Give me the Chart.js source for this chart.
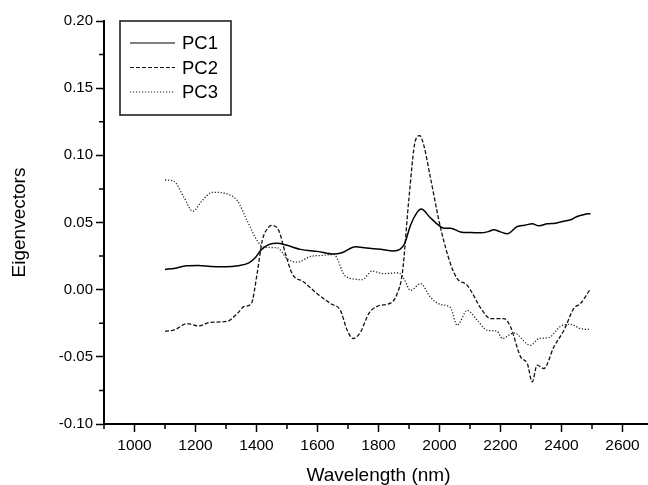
<!DOCTYPE html>
<html>
<head>
<meta charset="utf-8">
<script src="https://cdn.jsdelivr.net/npm/chart.js@4/dist/chart.umd.min.js"></script>
<style>
  html, body { margin: 0; padding: 0; background: #fff; overflow: hidden; }
  #wrap { width: 653px; height: 485px; }
</style>
</head>
<body>
<div id="wrap"><canvas id="c"></canvas></div>
<script>
// values
var pc1Wl = [1100,1130,1170,1210,1250,1300,1340,1375,1395,1415,1440,1468,1500,1544,1600,1652,1680,1725,1760,1806,1850,1870,1885,1905,1925,1940,1970,2000,2014,2036,2069,2100,2134,2160,2178,2200,2222,2255,2280,2304,2326,2353,2380,2408,2430,2451,2475,2495];
var pc1 = [0.0151,0.0158,0.0178,0.0180,0.0172,0.0170,0.0178,0.0200,0.0235,0.0295,0.0335,0.0345,0.0330,0.0300,0.0285,0.0265,0.0275,0.0320,0.0310,0.0300,0.0288,0.0300,0.0340,0.0480,0.0570,0.0600,0.0535,0.0475,0.0458,0.0458,0.0430,0.0425,0.0423,0.0432,0.0446,0.0430,0.0416,0.0470,0.0480,0.0490,0.0475,0.0490,0.0495,0.0510,0.0520,0.0545,0.0560,0.0566];

var pc2Wl = [1100,1130,1173,1211,1249,1304,1337,1360,1383,1402,1419,1440,1451,1473,1495,1517,1555,1599,1643,1675,1697,1717,1741,1768,1796,1845,1861,1878,1899,1921,1935,1948,1970,2003,2036,2058,2091,2140,2167,2211,2233,2266,2288,2304,2320,2342,2375,2408,2440,2462,2495];
var pc2 = [-0.0310,-0.0300,-0.0253,-0.0270,-0.0243,-0.0236,-0.0178,-0.0125,-0.0104,0.0119,0.0366,0.0465,0.0478,0.0440,0.0267,0.0119,0.0057,-0.0030,-0.0104,-0.0154,-0.0300,-0.0364,-0.0315,-0.0178,-0.0124,-0.0092,-0.0030,0.0119,0.0660,0.1110,0.1146,0.1080,0.0837,0.0465,0.0193,0.0082,0.0032,-0.0154,-0.0215,-0.0215,-0.0278,-0.0500,-0.0550,-0.0686,-0.0562,-0.0587,-0.0426,-0.0302,-0.0141,-0.0104,0.0007];

var pc3Wl = [1100,1129,1162,1191,1222,1255,1309,1337,1369,1402,1424,1468,1501,1533,1577,1615,1653,1692,1747,1779,1817,1866,1883,1905,1938,1970,2003,2036,2058,2091,2124,2156,2189,2206,2244,2298,2326,2358,2397,2429,2462,2495];
var pc3 = [0.0817,0.0807,0.0688,0.0584,0.0663,0.0725,0.0708,0.0663,0.0515,0.0366,0.0316,0.0312,0.0230,0.0205,0.0247,0.0255,0.0262,0.0099,0.0075,0.0138,0.0119,0.0126,0.0082,-0.0005,0.0045,-0.0055,-0.0110,-0.0134,-0.0265,-0.0154,-0.0228,-0.0302,-0.0310,-0.0364,-0.0322,-0.0414,-0.0364,-0.0357,-0.0273,-0.0258,-0.0290,-0.0297];

var seriesNames = ["PC1", "PC2", "PC3"];
var xTicks = [1000,1200,1400,1600,1800,2000,2200,2400,2600];
var xMinor = [900,1100,1300,1500,1700,1900,2100,2300,2500];
var yTicks = [-0.10,-0.05,0.00,0.05,0.10,0.15,0.20];
var yMinor = [-0.075,-0.025,0.025,0.075,0.125,0.175];

var FONT = "'Liberation Sans', Arial, sans-serif";

function pts(xs, ys) {
  return xs.map(function (x, i) { return { x: x, y: ys[i] }; });
}

// minor ticks, drawn through the scales
var minorTicks = {
  id: 'minorTicks',
  afterDraw: function (chart) {
    var ctx = chart.ctx, xs = chart.scales.x, ys = chart.scales.y;
    var a = chart.chartArea;
    ctx.save();
    ctx.strokeStyle = '#000';
    ctx.lineWidth = 1.5;
    ctx.beginPath();
    xMinor.forEach(function (v) {
      var px = xs.getPixelForValue(v);
      ctx.moveTo(px, a.bottom);
      ctx.lineTo(px, a.bottom + 5);
    });
    yMinor.forEach(function (v) {
      var py = ys.getPixelForValue(v);
      ctx.moveTo(a.left, py);
      ctx.lineTo(a.left - 5, py);
    });
    ctx.stroke();
    ctx.restore();
  }
};

// legend box inside the plot
var boxLegend = {
  id: 'boxLegend',
  afterDraw: function (chart) {
    var ctx = chart.ctx, a = chart.chartArea;
    var x0 = a.left + 16, y0 = a.top, w = 111, h = 94;
    ctx.save();
    ctx.fillStyle = '#fff';
    ctx.fillRect(x0, y0, w, h);
    ctx.strokeStyle = '#222';
    ctx.lineWidth = 1.6;
    ctx.strokeRect(x0, y0, w, h);
    chart.data.datasets.forEach(function (ds, i) {
      var y = y0 + 22 + i * 24.5;
      ctx.beginPath();
      ctx.setLineDash(ds.borderDash || []);
      ctx.strokeStyle = ds.borderColor;
      ctx.lineWidth = 1.2;
      ctx.moveTo(x0 + 10, y);
      ctx.lineTo(x0 + 55, y);
      ctx.stroke();
      ctx.setLineDash([]);
      ctx.fillStyle = '#000';
      ctx.font = '18.5px ' + FONT;
      ctx.textBaseline = 'middle';
      ctx.fillText(ds.label, x0 + 62, y + 1);
    });
    ctx.restore();
  }
};

new Chart(document.getElementById('c'), {
  type: 'line',
  data: {
    datasets: [
      { label: seriesNames[0], data: pts(pc1Wl, pc1), borderColor: '#000', borderWidth: 1.5, borderDash: [] },
      { label: seriesNames[1], data: pts(pc2Wl, pc2), borderColor: '#111', borderWidth: 1.3, borderDash: [4, 2] },
      { label: seriesNames[2], data: pts(pc3Wl, pc3), borderColor: '#222', borderWidth: 1.3, borderDash: [1.2, 1.8] }
    ]
  },
  options: {
    responsive: true,
    maintainAspectRatio: false,
    animation: false,
    cubicInterpolationMode: 'monotone',
    elements: { point: { radius: 0 }, line: { fill: false } },
    layout: { padding: { top: 21, left: 0, right: 0, bottom: 0 } },
    plugins: { legend: { display: false }, tooltip: { enabled: false } },
    scales: {
      x: {
        type: 'linear',
        min: 900,
        max: 2700,
        afterBuildTicks: function (s) { s.ticks = xTicks.map(function (v) { return { value: v }; }); },
        afterFit: function (s) { s.height = 61; },
        border: { display: true, color: '#000', width: 2 },
        grid: { drawOnChartArea: false, drawTicks: true, tickLength: 8, tickColor: '#000', tickWidth: 1.5 },
        ticks: {
          color: '#000', padding: 4, font: { family: FONT, size: 15.5 }, maxRotation: 0, autoSkip: false,
          callback: function (v) { return String(v); }
        },
        title: { display: true, text: 'Wavelength (nm)', color: '#000', font: { family: FONT, size: 19 }, padding: { top: 0, bottom: -2 } }
      },
      y: {
        type: 'linear',
        min: -0.10,
        max: 0.20,
        afterBuildTicks: function (s) { s.ticks = yTicks.map(function (v) { return { value: v }; }); },
        afterFit: function (s) { s.width = 104; },
        border: { display: true, color: '#000', width: 2 },
        grid: { drawOnChartArea: false, drawTicks: true, tickLength: 8, tickColor: '#000', tickWidth: 1.5 },
        ticks: {
          color: '#000', padding: 3, font: { family: FONT, size: 15 }, autoSkip: false,
          callback: function (v) { return Number(v).toFixed(2); }
        },
        title: { display: true, text: 'Eigenvectors', color: '#000', font: { family: FONT, size: 19 }, padding: { top: 8, bottom: 0 } }
      }
    }
  },
  plugins: [minorTicks, boxLegend]
});
</script>
</body>
</html>
